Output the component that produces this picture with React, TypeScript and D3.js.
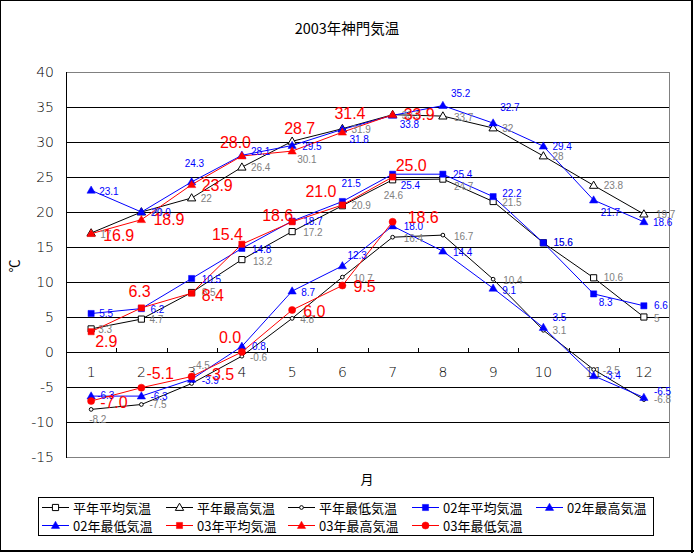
import React from 'react';
import * as d3 from 'd3';

// 2003 monthly temperatures at Kando (°C) vs. normal and 2002
const monthLabels = ['1', '2', '3', '4', '5', '6', '7', '8', '9', '10', '11', '12'];
const normalAvg = [3.3, 4.7, 8.5, 13.2, 17.2, 20.9, 24.6, 24.7, 21.5, 15.6, 10.6, 5];
const normalMax = [17, 20, 22, 26.4, 30.1, 31.9, 33.9, 33.7, 32, 28, 23.8, 19.7];
const normalMin = [-8.2, -7.5, -4.5, -0.6, 4.8, 10.7, 16.4, 16.7, 10.4, 3.1, -2.5, -6.8];
const avg02 = [5.5, 6.2, 10.5, 14.8, 18.7, 21.5, 25.4, 25.4, 22.2, 15.6, 8.3, 6.6];
const max02 = [23.1, 20.0, 24.3, 28.1, 29.5, 31.8, 33.8, 35.2, 32.7, 29.4, 21.7, 18.6];
const min02 = [-6.3, -6.3, -3.9, 0.8, 8.7, 12.3, 18.0, 14.4, 9.1, 3.5, -3.4, -6.5];
const avg03 = [2.9, 6.3, 8.4, 15.4, 18.6, 21.0, 25.0];
const max03 = [16.9, 18.9, 23.9, 28.0, 28.7, 31.4, 33.9];
const min03 = [-7.0, -5.1, -3.5, 0.0, 6.0, 9.5, 18.6];

const W = 694;
const H = 553;
const AXIS_FONT = '"DejaVu Sans", sans-serif';
const LABEL_FONT = '"Liberation Sans", Arial, sans-serif';
const JP_FONT = '"Noto Sans CJK JP", sans-serif';

type Marker = 'square' | 'triangle' | 'circle' | 'dot';

interface Series {
  name: string;
  values: number[];
  color: string;
  marker: Marker;
  hollow: boolean;
  labelColor: string;
  labelSize: number;
  fmt: (v: number) => string;
}

const general = (v: number) => String(v);
const fixed1 = (v: number) => v.toFixed(1);

const series: Series[] = [
  { name: '平年平均気温', values: normalAvg, color: '#000', marker: 'square', hollow: true, labelColor: '#808080', labelSize: 10, fmt: general },
  { name: '平年最高気温', values: normalMax, color: '#000', marker: 'triangle', hollow: true, labelColor: '#808080', labelSize: 10, fmt: general },
  { name: '平年最低気温', values: normalMin, color: '#000', marker: 'dot', hollow: true, labelColor: '#808080', labelSize: 10, fmt: general },
  { name: '02年平均気温', values: avg02, color: '#0000ff', marker: 'square', hollow: false, labelColor: '#0000ff', labelSize: 10, fmt: fixed1 },
  { name: '02年最高気温', values: max02, color: '#0000ff', marker: 'triangle', hollow: false, labelColor: '#0000ff', labelSize: 10, fmt: fixed1 },
  { name: '02年最低気温', values: min02, color: '#0000ff', marker: 'triangle', hollow: false, labelColor: '#0000ff', labelSize: 10, fmt: fixed1 },
  { name: '03年平均気温', values: avg03, color: '#ff0000', marker: 'square', hollow: false, labelColor: '#ff0000', labelSize: 16, fmt: fixed1 },
  { name: '03年最高気温', values: max03, color: '#ff0000', marker: 'triangle', hollow: false, labelColor: '#ff0000', labelSize: 16, fmt: fixed1 },
  { name: '03年最低気温', values: min03, color: '#ff0000', marker: 'circle', hollow: false, labelColor: '#ff0000', labelSize: 16, fmt: fixed1 },
];

// hand-placed data label nudges (left edge / vertical centre relative to the point)
const labelShift: Record<string, [number, number][]> = {
  '平年平均気温': [[7, 1], [8, 0.5], [10, 0], [11, 1.5], [11, 0.5], [9, 0], [-9, 16], [11, 7], [9, 0.5], [10, 0], [10, 0], [10, 1]],
  '平年最高気温': [[9, 1], [9, 0], [9, 0], [9, 0], [5, 18], [9, 1], [9, 1], [11, 1], [9, 0.5], [9, 0], [10, 0.5], [12, 0]],
  '平年最低気温': [[-2, 10.5], [8, 0], [1, -18], [8, 1], [8, 1.5], [11, 1], [11, 1], [11, 1], [10, 1], [9, 0], [9, 0.5], [10, 0]],
  '02年平均気温': [[8, 0], [9, 1], [10, 1], [10, 1], [11, 0.5], [-1, -18.5], [8, 11.3], [10, 0], [9, -3], [10, 0], [5, 9], [10, 0]],
  '02年最高気温': [[8, 1.5], [10, 0], [-7, -18], [9, -4], [10, 0.5], [7, 10.5], [7, 9.5], [8, -12.5], [7, -16], [9, 0], [7, 12], [9, 1]],
  '02年最低気温': [[6, -1], [9, 0], [10, 1], [10, 0], [9, 1], [5, -10], [11, 0], [10, 1], [9, 2], [9, -10], [10, 0], [10, -6]],
  '03年平均気温': [[4, 10], [-13, -16], [10, 2], [-30, -10], [-30, -6], [-37, -13.5], [3, -11.5]],
  '03年最高気温': [[12, 2], [12, 0], [10, 1], [-22, -13.5], [-8, -22.5], [-8, -18.5], [11, 0]],
  '03年最低気温': [[9, 1.5], [5, -14], [15, -2.5], [-23, -14.5], [11, 1.5], [11, 1], [15, -4]],
};

const plot = { left: 66, right: 669, top: 72, bottom: 457 };

const x = d3.scaleBand<number>().domain(d3.range(12)).range([plot.left, plot.right]).padding(0);
const cx = (i: number) => (x(i) as number) + x.bandwidth() / 2;
const y = d3.scaleLinear().domain([-15, 40]).range([plot.bottom, plot.top]);
const yTicks = d3.range(-15, 41, 5);

const symbolPath = (m: Marker) => {
  if (m === 'square') return d3.symbol(d3.symbolSquare, 38)()!;
  if (m === 'triangle') return d3.symbol(d3.symbolTriangle, 30)()!;
  if (m === 'circle') return d3.symbol(d3.symbolCircle, 40)()!;
  return d3.symbol(d3.symbolCircle, 11)()!;
};

const MarkerShape = ({ s, tx, ty }: { s: Series; tx: number; ty: number }) => (
  <path
    d={symbolPath(s.marker)}
    transform={`translate(${tx},${ty + (s.marker === 'triangle' ? 0.5 : 0)})`}
    fill={s.hollow ? '#fff' : s.color}
    stroke={s.color}
    strokeWidth={s.hollow ? 1 : 0.5}
  />
);

export default function App() {
  const line = d3
    .line<number>()
    .x((_, i) => cx(i))
    .y((d) => y(d));

  const legendCols = [42, 166, 288, 412, 536];
  const legendRows = [507, 525];

  return (
    <svg
      width={W}
      height={H}
      viewBox={`0 0 ${W} ${H}`}
      style={{ position: 'absolute', left: 0, top: 0, background: '#fff' }}
    >
      <rect x={0.5} y={0.5} width={W - 3} height={H - 3} fill="#fff" stroke="#000" strokeWidth={1} />
      <line x1={W - 2} y1={0} x2={W - 2} y2={H} stroke="#000" strokeWidth={2} />
      <line x1={0} y1={H - 2} x2={W} y2={H - 2} stroke="#000" strokeWidth={2} />

      <text x={347} y={27} textAnchor="middle" dominantBaseline="central" fontFamily={JP_FONT} fontSize={14.5}>
        2003年神門気温
      </text>

      {/* plot frame and gridlines */}
      <rect
        x={plot.left + 0.5}
        y={plot.top + 0.5}
        width={plot.right - plot.left}
        height={plot.bottom - plot.top}
        fill="#fff"
        stroke="#808080"
      />
      {yTicks
        .filter((t) => t > -15 && t < 40)
        .map((t) => (
          <line key={t} x1={plot.left} x2={plot.right} y1={Math.round(y(t)) + 0.5} y2={Math.round(y(t)) + 0.5} stroke="#000" />
        ))}
      <line x1={plot.left + 0.5} x2={plot.left + 0.5} y1={plot.top} y2={plot.bottom + 1} stroke="#000" />
      {d3.range(1, 12).map((k) => (
        <line
          key={k}
          x1={Math.round(x(k) as number) + 0.5}
          x2={Math.round(x(k) as number) + 0.5}
          y1={y(0) - 4}
          y2={y(0)}
          stroke="#000"
        />
      ))}

      <g fontFamily={AXIS_FONT} fontWeight={200} fontSize={14}>
        {yTicks.map((t) => (
          <text key={t} x={54} y={y(t)} textAnchor="end" dominantBaseline="central">
            {t}
          </text>
        ))}
        {monthLabels.map((m, i) => (
          <text key={m} x={cx(i)} y={372} textAnchor="middle" dominantBaseline="central">
            {m}
          </text>
        ))}
      </g>

      <text
        x={13}
        y={266}
        transform="rotate(-90 13 266)"
        textAnchor="middle"
        dominantBaseline="central"
        fontFamily={JP_FONT}
        fontSize={13}
      >
        ℃
      </text>
      <text x={367} y={478} textAnchor="middle" dominantBaseline="central" fontFamily={JP_FONT} fontSize={13}>
        月
      </text>

      {/* series */}
      {series.map((s) => (
        <g key={s.name}>
          <path d={line(s.values) ?? ''} fill="none" stroke={s.color} strokeWidth={1} />
          {s.values.map((v, i) => (
            <MarkerShape key={i} s={s} tx={cx(i)} ty={y(v)} />
          ))}
        </g>
      ))}

      {/* data labels */}
      {series.map((s) => (
        <g key={s.name} fontFamily={LABEL_FONT} fontSize={s.labelSize} fill={s.labelColor}>
          {s.values.map((v, i) => {
            const [dx, dy] = labelShift[s.name][i] ?? [9, 0.5];
            return (
              <text key={i} x={cx(i) + dx} y={y(v) + dy} dominantBaseline="central">
                {s.fmt(v)}
              </text>
            );
          })}
        </g>
      ))}

      {/* legend */}
      <rect x={38.5} y={497.5} width={615} height={38} fill="#fff" stroke="#000" />
      {series.map((s, k) => {
        const lx = legendCols[k % 5];
        const ly = legendRows[Math.floor(k / 5)];
        return (
          <g key={s.name}>
            <line x1={lx} x2={lx + 27} y1={ly + 0.5} y2={ly + 0.5} stroke={s.color} />
            <MarkerShape s={s} tx={lx + 13.5} ty={ly + 0.5} />
            <text x={lx + 31} y={ly} dominantBaseline="central" fontFamily={JP_FONT} fontSize={13}>
              {s.name}
            </text>
          </g>
        );
      })}
    </svg>
  );
}
